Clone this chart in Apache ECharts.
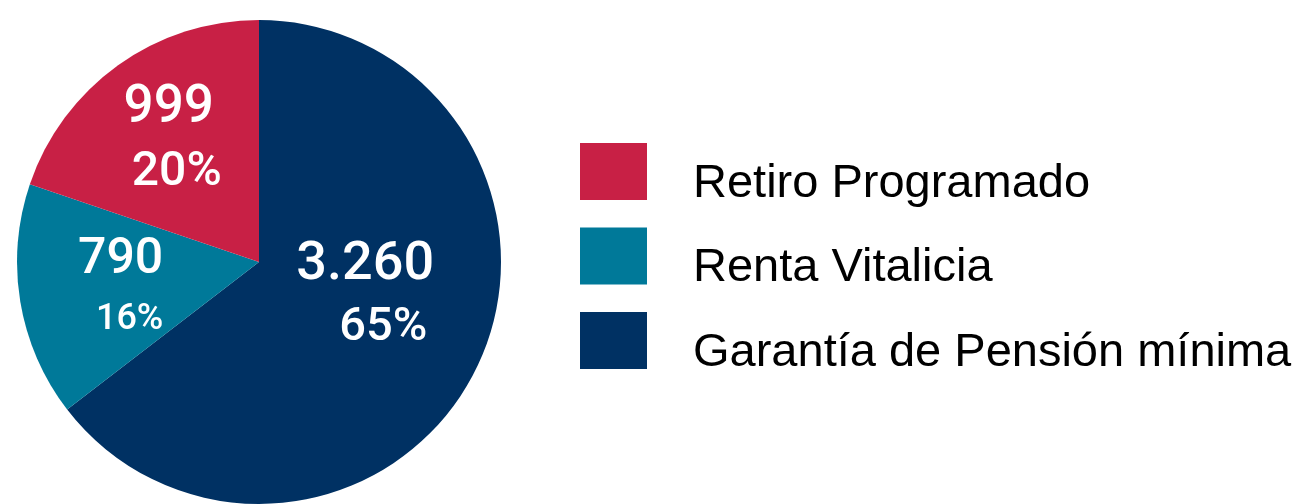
<!DOCTYPE html>
<html>
<head>
<meta charset="utf-8">
<script src="https://cdn.jsdelivr.net/npm/echarts@6/dist/echarts.min.js"></script>
<style>
html,body{margin:0;padding:0;background:#fff;}
#chart{width:1310px;height:504px;}
</style>
</head>
<body>
<div id="chart"></div>
<script>
// Data (slice order: clockwise from 12 o'clock)
var categories = ['Garantía de Pensión mínima', 'Renta Vitalicia', 'Retiro Programado'];
var values = [3260, 790, 999];
var legendOrder = ['Retiro Programado', 'Renta Vitalicia', 'Garantía de Pensión mínima'];

var colors = ['#003163', '#007999', '#C82045'];
var total = values.reduce(function (a, b) { return a + b; }, 0);

function fmt(n) {
  return String(n).replace(/\B(?=(\d{3})+(?!\d))/g, '.');
}

// per-slice label styling
var labelStyles = [
  { v: 54, p: 47, lh: 63, pad: 36, dx: -5, dy: -20 },
  { v: 50, p: 36, lh: 59, pad: 18, dx: -16, dy: 8 },
  { v: 53, p: 48, lh: 64, pad: 16, dx: -18, dy: -20 }
];

var seriesData = categories.map(function (name, i) {
  var s = labelStyles[i];
  return {
    name: name,
    value: values[i],
    itemStyle: { color: colors[i] },
    label: {
      rich: {
        v: { fontSize: s.v, lineHeight: s.lh, color: '#fff', fontFamily: 'Roboto', fontWeight: 500, align: 'center' },
        p: { fontSize: s.p, lineHeight: s.lh, color: '#fff', fontFamily: 'Roboto', fontWeight: 500, align: 'center', padding: [0, 0, 0, s.pad] }
      }
    }
  };
});

var legendFont = '"Liberation Sans", Arial, sans-serif';

var chart = echarts.init(document.getElementById('chart'), null, { renderer: 'canvas' });
chart.setOption({
  animation: false,
  backgroundColor: '#ffffff',
  legend: {
    orient: 'vertical',
    left: 575,
    top: 138,
    itemWidth: 67,
    itemHeight: 57,
    itemGap: 20,
    icon: 'rect',
    data: legendOrder,
    selectedMode: false,
    formatter: function (name) {
      return '{s| }\n{a|' + name + '}';
    },
    textStyle: {
      fontFamily: legendFont,
      fontSize: 47,
      color: '#000',
      padding: [0, 0, 0, 41],
      rich: {
        s: { fontSize: 1, lineHeight: 25 },
        a: { fontFamily: legendFont, fontSize: 47, lineHeight: 54, color: '#000' }
      }
    }
  },
  series: [{
    type: 'pie',
    center: [259, 262],
    radius: [0, 242],
    startAngle: 90,
    clockwise: true,
    avoidLabelOverlap: false,
    label: {
      show: true,
      position: 'inside',
      formatter: function (p) {
        return '{v|' + fmt(p.value) + '}\n{p|' + Math.round(p.value / total * 100) + '%}';
      }
    },
    labelLine: { show: false },
    labelLayout: function (params) {
      var s = labelStyles[params.dataIndex];
      return { dx: s.dx, dy: s.dy };
    },
    emphasis: { disabled: true },
    data: seriesData
  }]
});
</script>
</body>
</html>
